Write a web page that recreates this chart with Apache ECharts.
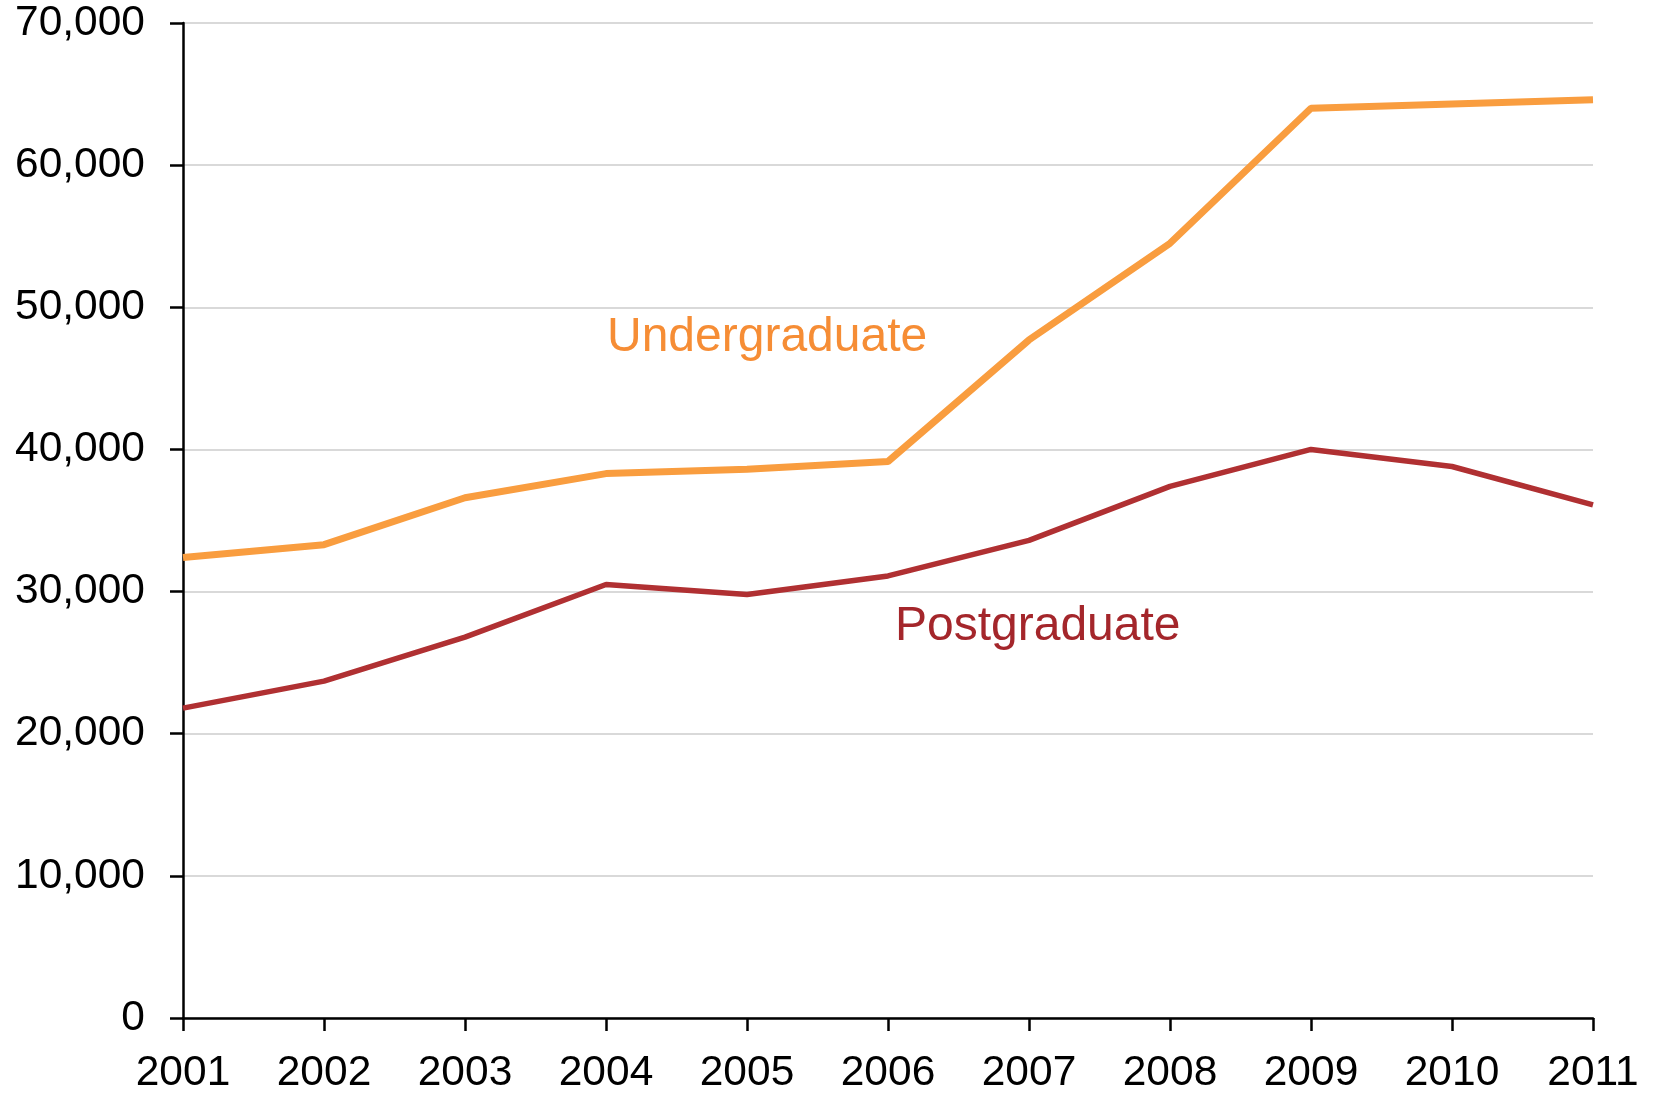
<!DOCTYPE html>
<html>
<head>
<meta charset="utf-8">
<script src="https://cdn.jsdelivr.net/npm/echarts@6/dist/echarts.min.js"></script>
<style>
html,body{margin:0;padding:0;background:#fff;}
#chart{width:1655px;height:1095px;}
</style>
</head>
<body>
<div id="chart"></div>
<script>
const years = ['2001','2002','2003','2004','2005','2006','2007','2008','2009','2010','2011'];
const undergraduate = [32400, 33300, 36600, 38300, 38600, 39150, 47700, 54500, 64000, 64300, 64600];
const postgraduate = [21800, 23700, 26800, 30500, 29800, 31100, 33600, 37400, 40000, 38800, 36100];
const yTicks = [0, 10000, 20000, 30000, 40000, 50000, 60000, 70000];

const chart = echarts.init(document.getElementById('chart'));
const FONT = '"Liberation Sans", Arial, sans-serif';
chart.setOption({
  animation: false,
  backgroundColor: '#ffffff',
  grid: { left: 183, right: 62, top: 23, bottom: 75, containLabel: false },
  xAxis: {
    type: 'category',
    data: years,
    boundaryGap: false,
    axisLine: { lineStyle: { color: '#000', width: 2.5 } },
    axisTick: { show: true, length: 13, lineStyle: { color: '#000', width: 2.5 }, alignWithLabel: true },
    axisLabel: { fontSize: 42.5, color: '#000', fontFamily: FONT, margin: 34 },
    splitLine: { show: false }
  },
  yAxis: {
    type: 'value',
    min: yTicks[0],
    max: yTicks[yTicks.length - 1],
    interval: 10000,
    axisLine: { show: true, lineStyle: { color: '#000', width: 2.5 } },
    axisTick: { show: true, length: 13, lineStyle: { color: '#000', width: 2.5 } },
    axisLabel: {
      fontSize: 42.5, color: '#000', fontFamily: FONT, margin: 38,
      formatter: v => v.toLocaleString('en-US')
    },
    splitLine: { show: true, lineStyle: { color: '#cccccc', width: 1.5 } }
  },
  series: [
    {
      name: 'Undergraduate', type: 'line', data: undergraduate,
      symbol: 'none', lineStyle: { color: '#F99D3F', width: 7 }, z: 3
    },
    {
      name: 'Postgraduate', type: 'line', data: postgraduate,
      symbol: 'none', lineStyle: { color: '#B03032', width: 5.5 }, z: 3
    }
  ],
  graphic: [
    { type: 'text', style: { x: 607, y: 338, text: 'Undergraduate', font: '48px ' + FONT, fill: '#F68D35', textVerticalAlign: 'middle' } },
    { type: 'text', style: { x: 895, y: 627, text: 'Postgraduate', font: '48px ' + FONT, fill: '#A4262B', textVerticalAlign: 'middle' } }
  ]
});
</script>
</body>
</html>
